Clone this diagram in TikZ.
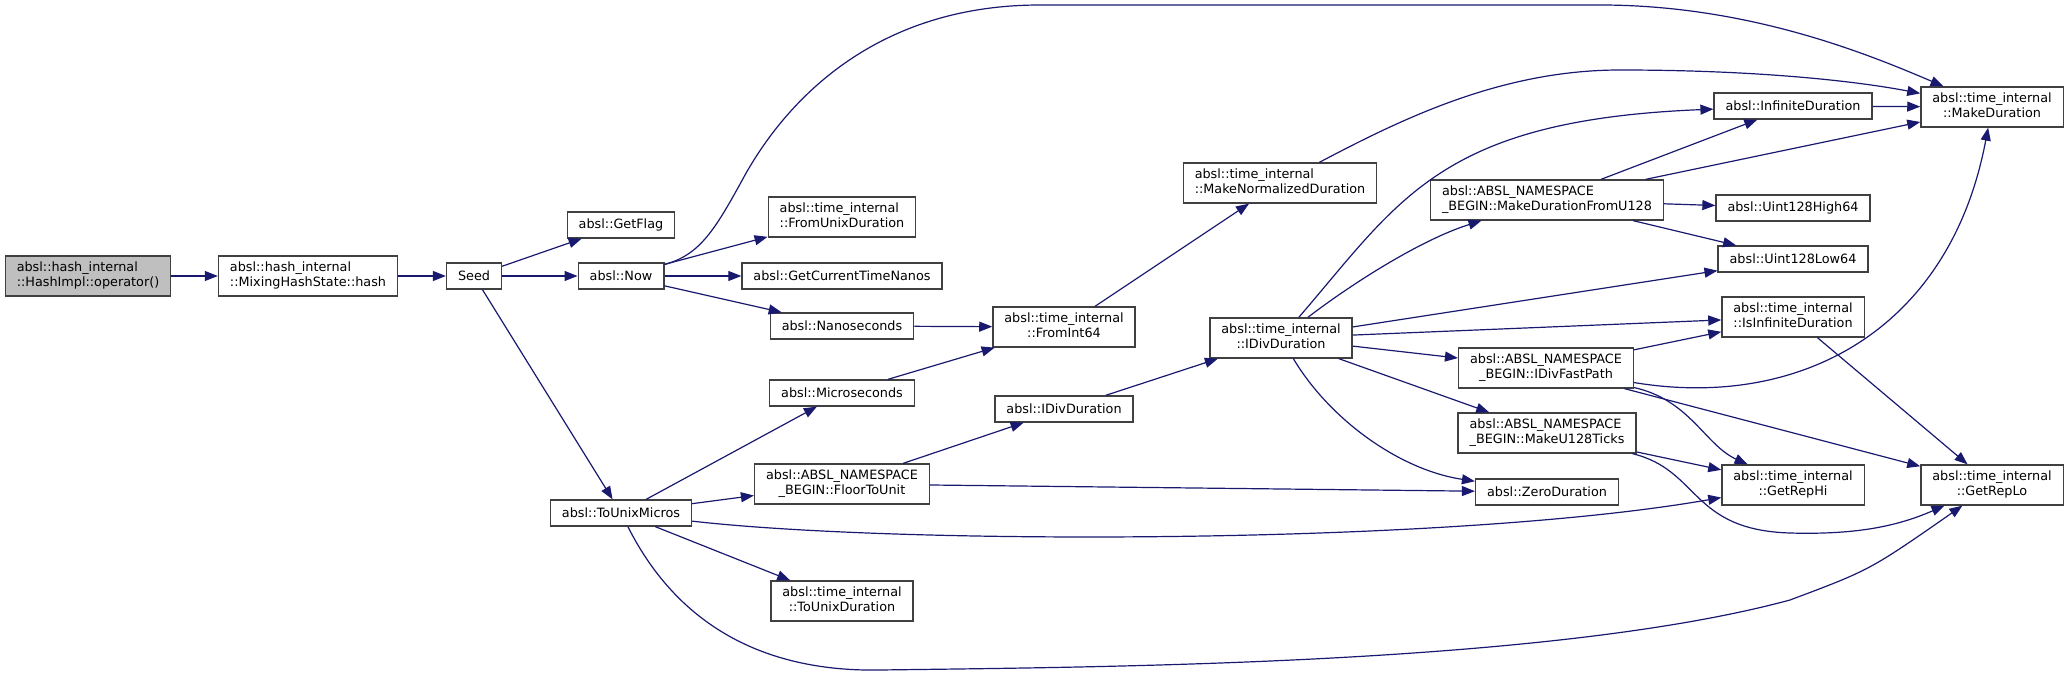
\documentclass[tikz,border=0pt]{standalone}
\usepackage{fontspec}
\setmainfont{DejaVu Sans}
\usepackage{tikz}
\usetikzlibrary{arrows.meta,positioning}

\definecolor{callblue}{HTML}{191970}
\definecolor{boxline}{HTML}{404040}
\definecolor{rootgray}{HTML}{BFBFBF}

\newcommand{\twoln}[2]{\begin{tabular}{@{}c@{}}\multicolumn{1}{@{}l@{}}{#1}\\#2\end{tabular}}

\begin{document}
\begin{tikzpicture}[x=1pt,y=-1pt,
		font=\fontsize{12.8}{15}\selectfont,
		fnbox/.style={draw=boxline,fill=white,line width=1.3pt,inner xsep=11.5pt,inner ysep=5pt,minimum height=26pt},
		rootbox/.style={fnbox,fill=rootgray},
		call/.style={->,draw=callblue,line width=1.2pt},
		>={Triangle[length=13pt,width=10pt]}]
			\useasboundingbox (0,0) rectangle (2068,676);
			
			% Caller chain
			\node[rootbox] (HashImpl) at (88,276) {\twoln{absl::hash\_internal}{::HashImpl::operator()}};
			\node[fnbox] (MixHash) at (308,276) {\twoln{absl::hash\_internal}{::MixingHashState::hash}};
			\node[fnbox] (Seed) at (474,276) {Seed};
			
			% Called by Seed
			\node[fnbox] (GetFlag) at (621,225) {absl::GetFlag};
			\node[fnbox] (Now) at (621,276) {absl::Now};
			\node[fnbox] (ToUnixMicros) at (621,513) {absl::ToUnixMicros};
			
			% Third column
			\node[fnbox] (FromUnixDur) at (842,217) {\twoln{absl::time\_internal}{::FromUnixDuration}};
			\node[fnbox] (CurTimeNanos) at (842,276) {absl::GetCurrentTimeNanos};
			\node[fnbox] (Nanos) at (842,326) {absl::Nanoseconds};
			\node[fnbox] (Micros) at (842,393) {absl::Microseconds};
			\node[fnbox] (FloorToUnit) at (842,484) {\twoln{absl::ABSL\_NAMESPACE}{\_BEGIN::FloorToUnit}};
			\node[fnbox] (ToUnixDur) at (842,601) {\twoln{absl::time\_internal}{::ToUnixDuration}};
			
			% Fourth and fifth columns
			\node[fnbox] (FromInt64) at (1064,327) {\twoln{absl::time\_internal}{::FromInt64}};
			\node[fnbox] (IDivDurA) at (1064,409) {absl::IDivDuration};
			\node[fnbox] (MakeNormDur) at (1280,183) {\twoln{absl::time\_internal}{::MakeNormalizedDuration}};
			\node[fnbox] (IDivDurT) at (1281,338) {\twoln{absl::time\_internal}{::IDivDuration}};
			
			% Sixth column
			\node[fnbox] (MakeDurU128) at (1547,200) {\twoln{absl::ABSL\_NAMESPACE}{\_BEGIN::MakeDurationFromU128}};
			\node[fnbox] (IDivFast) at (1546,368) {\twoln{absl::ABSL\_NAMESPACE}{\_BEGIN::IDivFastPath}};
			\node[fnbox] (MakeTicks) at (1547,433) {\twoln{absl::ABSL\_NAMESPACE}{\_BEGIN::MakeU128Ticks}};
			\node[fnbox] (ZeroDur) at (1547,492) {absl::ZeroDuration};
			
			% Seventh column
			\node[fnbox] (InfDur) at (1793,106) {absl::InfiniteDuration};
			\node[fnbox] (U128High) at (1793,208) {absl::Uint128High64};
			\node[fnbox] (U128Low) at (1793,259) {absl::Uint128Low64};
			\node[fnbox] (IsInfDur) at (1793,317) {\twoln{absl::time\_internal}{::IsInfiniteDuration}};
			\node[fnbox] (GetRepHi) at (1793,485) {\twoln{absl::time\_internal}{::GetRepHi}};
			
			% Last column
			\node[fnbox] (MakeDur) at (1992,107) {\twoln{absl::time\_internal}{::MakeDuration}};
			\node[fnbox] (GetRepLo) at (1992,485) {\twoln{absl::time\_internal}{::GetRepLo}};
			
			% Calls from the left part
			\draw[call] (HashImpl) -- (MixHash);
			\draw[call] (MixHash) -- (Seed);
			\draw[call] (Seed) -- (GetFlag);
			\draw[call] (Seed) -- (Now);
			\draw[call] (Seed) -- (ToUnixMicros);
			\draw[call] (Now) .. controls (700,255) and (715,230) .. (745,175)
				.. controls (790,95) and (880,5) .. (1040,5) -- (1600,5)
				.. controls (1750,5) and (1870,55) .. (MakeDur);
			\draw[call] (Now) -- (FromUnixDur);
			\draw[call] (Now) -- (CurTimeNanos);
			\draw[call] (Now) -- (Nanos);
			\draw[call] (Nanos) -- (FromInt64);
			\draw[call] (Micros) -- (FromInt64);
			\draw[call] (FromInt64) -- (MakeNormDur);
			\draw[call] (MakeNormDur) .. controls (1400,120) and (1500,70) .. (1620,70)
				.. controls (1750,70) and (1850,80) .. (MakeDur);
			\draw[call] (ToUnixMicros) -- (Micros);
			\draw[call] (ToUnixMicros) -- (FloorToUnit);
			\draw[call] (ToUnixMicros) .. controls (900,545) and (1450,545) .. (GetRepHi);
			\draw[call] (ToUnixMicros) -- (ToUnixDur);
			\draw[call] (ToUnixMicros) .. controls (680,630) and (770,672) .. (880,670)
				.. controls (1100,667) and (1550,665) .. (1790,600)
				.. controls (1870,570) .. (GetRepLo);
			\draw[call] (FloorToUnit) -- (IDivDurA);
			\draw[call] (FloorToUnit) -- (ZeroDur);
			\draw[call] (IDivDurA) -- (IDivDurT);
			
			% Calls from time_internal::IDivDuration
			\draw[call] (IDivDurT) .. controls (1400,200) and (1440,120) .. (InfDur);
			\draw[call] (IDivDurT) .. controls (1350,285) and (1420,240) .. (MakeDurU128);
			\draw[call] (IDivDurT) -- (U128Low);
			\draw[call] (IDivDurT) -- (IsInfDur);
			\draw[call] (IDivDurT) -- (IDivFast);
			\draw[call] (IDivDurT) -- (MakeTicks);
			\draw[call] (IDivDurT) .. controls (1330,420) and (1400,470) .. (ZeroDur);
			
			% Calls on the right
			\draw[call] (MakeDurU128) -- (InfDur);
			\draw[call] (MakeDurU128) -- (MakeDur);
			\draw[call] (MakeDurU128) -- (U128High);
			\draw[call] (MakeDurU128) -- (U128Low);
			\draw[call] (InfDur) -- (MakeDur);
			\draw[call] (IDivFast) -- (IsInfDur);
			\draw[call] (IDivFast) .. controls (1800,410) and (1950,330) .. (MakeDur);
			\draw[call] (IDivFast) .. controls (1690,400) and (1705,445) .. (GetRepHi);
			\draw[call] (IDivFast) -- (GetRepLo);
			\draw[call] (MakeTicks) -- (GetRepHi);
			\draw[call] (MakeTicks) .. controls (1700,470) and (1690,530) .. (1790,533)
				.. controls (1860,535) and (1900,525) .. (GetRepLo);
			\draw[call] (IsInfDur) -- (GetRepLo);
		\end{tikzpicture}
\end{document}
